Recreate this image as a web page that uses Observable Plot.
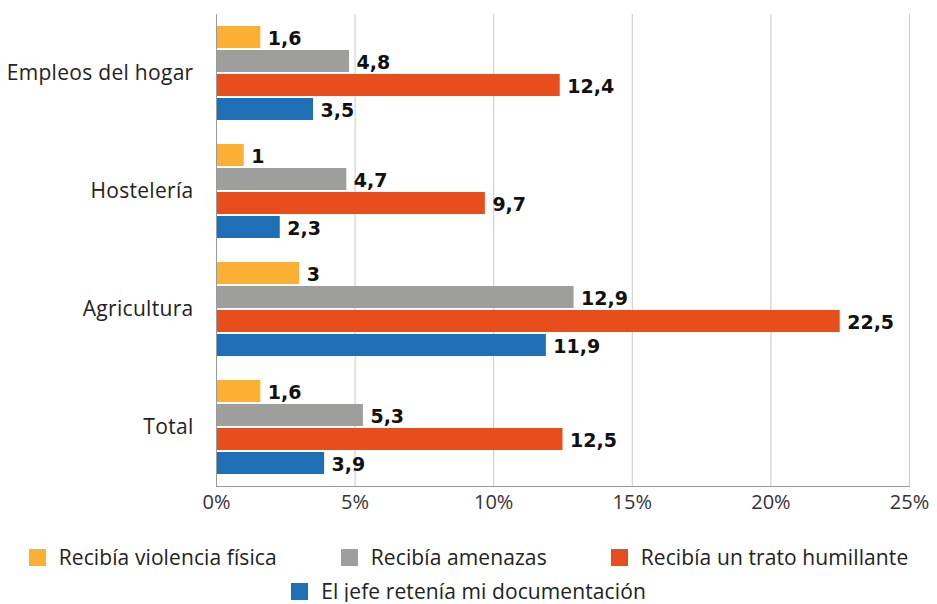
<!DOCTYPE html>
<html><head><meta charset="utf-8">
<script src="https://cdn.jsdelivr.net/npm/d3@7"></script>
<script src="https://cdn.jsdelivr.net/npm/@observablehq/plot@0.6"></script>
<style>
body{margin:0;background:#fff;font-family:"Open Sans", sans-serif;}
#legend{display:flex;flex-wrap:wrap;justify-content:center;column-gap:64px;row-gap:12px;width:937px;font-size:21px;letter-spacing:0.1px;color:#222;margin-top:21px;line-height:22px;}
.item{display:flex;align-items:center;}
.sw{width:17px;height:17px;margin-right:13px;}
g[aria-label="fy-axis tick label"] text{letter-spacing:0.3px;}
</style></head><body><div id="chart"></div><div id="legend"></div>
<script>
const categories = ["Empleos del hogar","Hostelería","Agricultura","Total"];
const series = ["Recibía violencia física","Recibía amenazas","Recibía un trato humillante","El jefe retenía mi documentación"];
const violencia = [1.6, 1, 3, 1.6];
const amenazas = [4.8, 4.7, 12.9, 5.3];
const humillante = [12.4, 9.7, 22.5, 12.5];
const documentacion = [3.5, 2.3, 11.9, 3.9];
const xTicks = [0, 5, 10, 15, 20, 25];
const colors = ["#FBB034","#9E9E9D","#E84E1C","#1E6FB6"];

const valuesBySeries = [violencia, amenazas, humillante, documentacion];
const rows = [];
categories.forEach((c, i) => valuesBySeries.forEach((arr, j) => rows.push({category: c, series: series[j], value: arr[i]})));
const fmt = v => String(v).replace(".", ",");

const plot = Plot.plot({
  width: 937, height: 525,
  marginLeft: 216, marginRight: 28, marginTop: 12, marginBottom: 38,
  style: {fontFamily: "'Open Sans', sans-serif", fontSize: "19px", color: "#333", background: "#fff"},
  x: {domain: [0, 25]},
  fy: {domain: categories, padding: 0},
  y: {domain: series, paddingInner: 0.083, paddingOuter: 0.49},
  color: {domain: series, range: colors},
  marks: [
    Plot.ruleX(xTicks.slice(1), {stroke: "#c8c8c8"}),
    Plot.barX(rows, {fy: "category", y: "series", x: "value", fill: "series"}),
    Plot.ruleX([0], {stroke: "#9a9a9a"}),
    Plot.frame({anchor: "bottom", facet: "super", stroke: "#9a9a9a"}),
    Plot.text(rows, {fy: "category", y: "series", x: "value", text: d => fmt(d.value), textAnchor: "start", dx: 7, dy: 1, fontWeight: "bold", fontFamily: "'DejaVu Sans', sans-serif", fontSize: 19, fill: "#111"}),
    Plot.axisX({ticks: xTicks, tickFormat: d => d + "%", tickSize: 0, tickPadding: 8, label: null, fontSize: 20, fill: "#333"}),
    Plot.axisFy({anchor: "left", tickSize: 0, tickPadding: 23, label: null, fontSize: 21, fill: "#222"}),
    Plot.axisY({ticks: [], label: null})
  ]
});
document.getElementById("chart").append(plot);

const legend = document.getElementById("legend");
series.forEach((s, i) => {
  const it = document.createElement("div"); it.className = "item";
  const sw = document.createElement("span"); sw.className = "sw"; sw.style.background = colors[i];
  const tx = document.createElement("span"); tx.textContent = s;
  it.append(sw, tx); legend.append(it);
});
</script></body></html>
